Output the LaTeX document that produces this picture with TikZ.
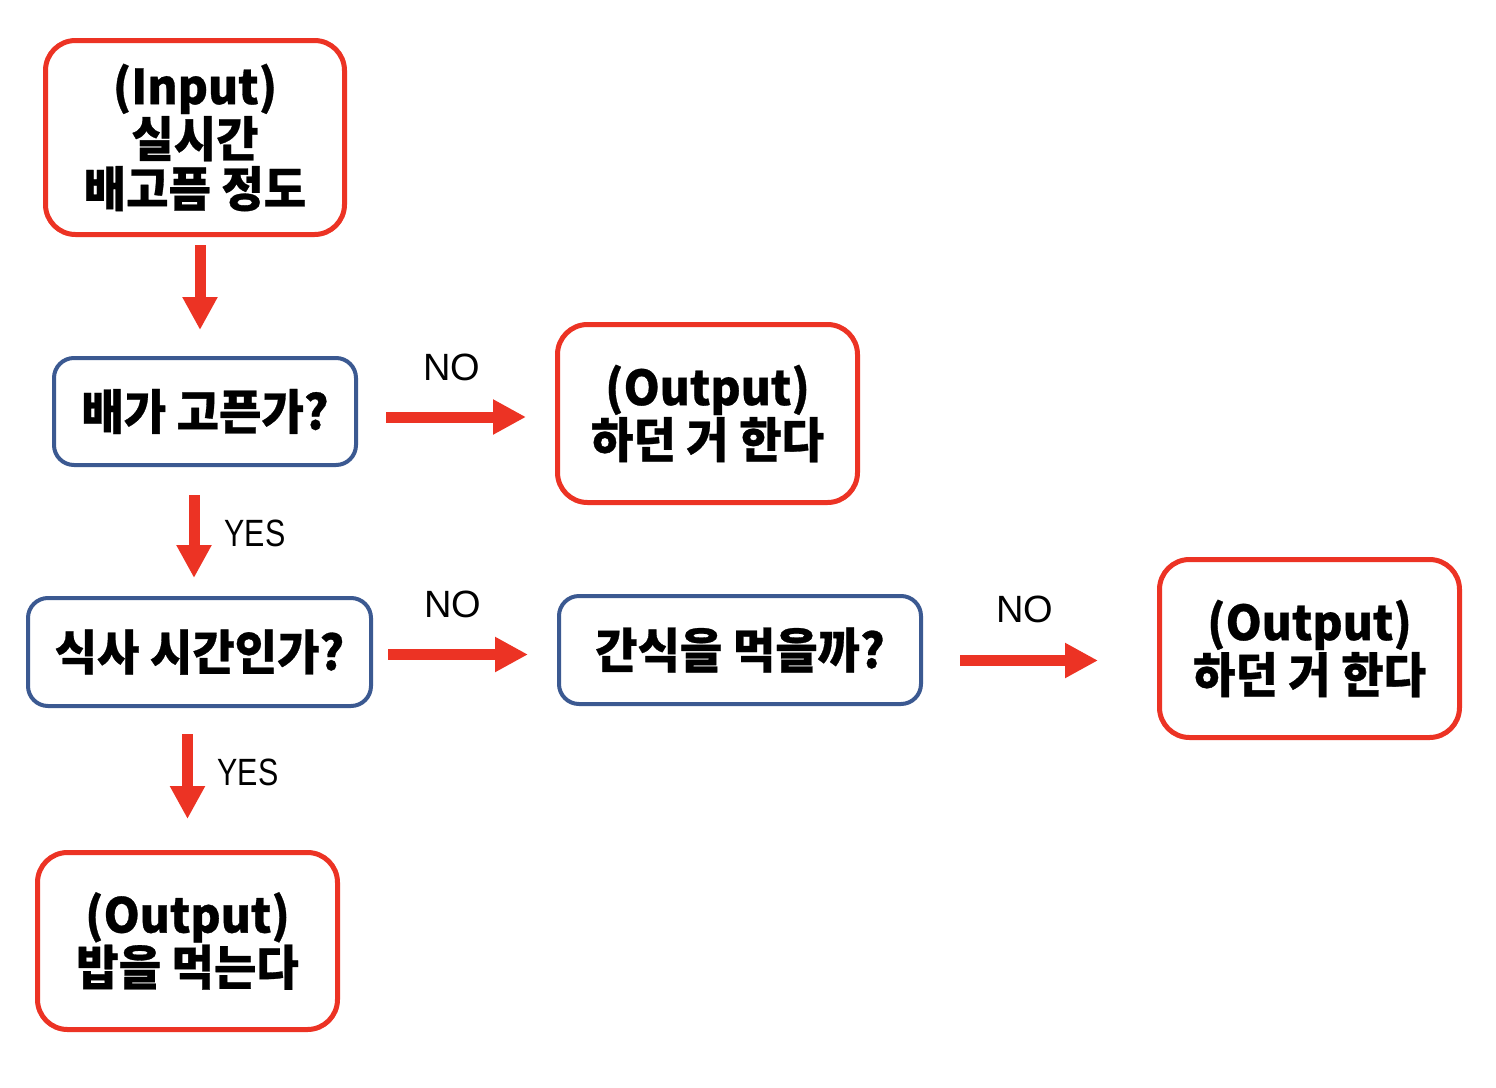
\documentclass[tikz,border=0pt]{standalone}
\usepackage{fontspec}
\setmainfont{Liberation Sans}
\newfontfamily\kr[FakeStretch=0.96,BoldFeatures={FakeBold=0.6}]{Noto Sans CJK KR}
\newfontfamily\narrowsans[FakeStretch=0.8]{Liberation Sans}
\usetikzlibrary{arrows.meta,calc}
\definecolor{fred}{RGB}{236,51,36}
\definecolor{fblue}{RGB}{59,89,145}
\tikzset{
  boxtext/.style={align=center, outer sep=0pt, inner sep=0pt, text=black,
    font=\kr\bfseries\fontsize{24pt}{25pt}\selectfont},
  redbox/.style={boxtext, draw=fred, line width=2.5pt, rounded corners=15pt},
  bluebox/.style={boxtext, draw=fblue, line width=2pt, rounded corners=10pt},
  arr/.style={draw=fred, line width=5.5pt, -{Triangle[length=16.5pt,width=16.5pt]}, fill=fred},
  lbl/.style={font=\fontsize{19pt}{20pt}\selectfont, text=black, inner sep=0pt},
  ylbl/.style={font=\narrowsans\fontsize{19pt}{20pt}\selectfont, text=black, inner sep=0pt}
}
\begin{document}
\begin{tikzpicture}[x=0.5pt,y=-0.5pt]
\useasboundingbox[fill=white] (0,0) rectangle (1496,1088);
% boxes
\node[redbox, minimum width=149.5pt, minimum height=97pt] (b1) at (195,137.5) {(Input)\\실시간\\배고픔 정도};
\node[bluebox, minimum width=151pt, minimum height=53.5pt] (b2) at (205,411.5) {배가 고픈가?};
\node[redbox, minimum width=150pt, minimum height=89pt] (b3) at (707.5,413.5) {(Output)\\하던 거 한다};
\node[bluebox, minimum width=171.5pt, minimum height=54pt] (b4) at (199.5,652) {식사 시간인가?};
\node[bluebox, minimum width=181pt, minimum height=54pt] (b5) at (740,650) {간식을 먹을까?};
\node[redbox, minimum width=150pt, minimum height=89pt] (b6) at (1309.5,648.5) {(Output)\\하던 거 한다};
\node[redbox, minimum width=150pt, minimum height=88.5pt] (b7) at (187.5,941) {(Output)\\밥을 먹는다};
% arrows
\draw[arr] ($(b1.south)+(5,10.5)$) -- ($(b2.north)+(-5,-28)$);
\draw[arr] ($(b2.east)+(30,5.5)$) -- ($(b3.west)+(-31.5,3.5)$);
\draw[arr] ($(b2.south)+(-11,30)$) -- ($(b4.north)+(-5.5,-20)$);
\draw[arr] ($(b4.east)+(17,2.5)$) -- ($(b5.west)+(-31,4.5)$);
\draw[arr] ($(b5.east)+(39,10.5)$) -- ($(b6.west)+(-61.5,12)$);
\draw[arr] ($(b4.south)+(-12,28)$) -- ($(b7.north)+(0,-33.5)$);
% labels
\node[lbl] (n1) at (452,367) {NO};
\node[ylbl] (y1) at (255,533) {YES};
\node[lbl] (n2) at (453,604) {NO};
\node[lbl] (n3) at (1025,609) {NO};
\node[ylbl] (y2) at (248,772) {YES};
\end{tikzpicture}
\end{document}
